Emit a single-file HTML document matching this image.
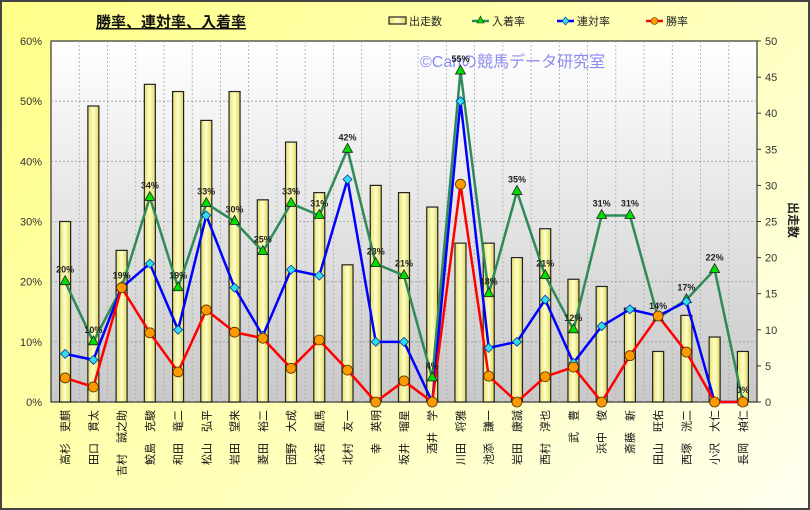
<!DOCTYPE html>
<html><head><meta charset="utf-8">
<style>
body{margin:0;width:810px;height:510px;overflow:hidden;font-family:"Liberation Sans","Noto Sans CJK JP",sans-serif;}
#frame{position:absolute;left:0;top:0;width:806px;height:506px;border:2px solid #444;background:linear-gradient(135deg,#ffff88 0%,#ffffc0 60%,#fffff0 100%);}
</style></head><body>
<div id="frame"></div>
<svg id="c" width="810" height="510" style="position:absolute;left:0;top:0">
<defs>
<linearGradient id="pg" x1="0" y1="0" x2="0" y2="1"><stop offset="0" stop-color="#ffffff"/><stop offset="1" stop-color="#c8c8c8"/></linearGradient>
<linearGradient id="bg" x1="0" y1="0" x2="1" y2="0"><stop offset="0" stop-color="#e8e070"/><stop offset="0.5" stop-color="#ffffc8"/><stop offset="1" stop-color="#e0d860"/></linearGradient>
</defs>
</svg>
<script>
const names=["高杉　吏麒","田口　貫太","吉村　誠之助","鮫島　克駿","和田　竜二","松山　弘平","岩田　望来","菱田　裕二","団野　大成","松若　風馬","北村　友一","幸　英明","坂井　瑠星","酒井　学","川田　将雅","池添　謙一","岩田　康誠","西村　淳也","武　豊","浜中　俊","斎藤　新","田山　旺佑","西塚　洸二","小沢　大仁","長岡　禎仁"];
const runs=[25,41,21,44,43,39,43,28,36,29,19,30,29,27,22,22,20,24,17,16,13,7,12,9,7];
const place=[20,10,19,34,19,33,30,25,33,31,42,23,21,4,55,18,35,21,12,31,31,14,17,22,0];
const rentai=[8,7,19,23,12,31,19,11,22,21,37,10,10,0,50,9,10,17,6.5,12.6,15.4,14.3,16.7,0,0];
const win=[4,2.5,19,11.5,5,15.3,11.6,10.6,5.6,10.3,5.3,0,3.5,0,36.2,4.3,0,4.2,5.8,0,7.7,14.3,8.3,0,0];
const pctTicks=[0,10,20,30,40,50,60];
const cntTicks=[0,5,10,15,20,25,30,35,40,45,50];

const L=51,R=757,T=41,B=402,n=names.length,cw=(R-L)/n;
const xc=i=>L+cw*(i+0.5);
const yp=p=>B-(B-T)*p/60;
const yc=v=>B-(B-T)*v/50;
const svg=document.getElementById('c');const NS='http://www.w3.org/2000/svg';
function mk(tag,at,parent){const e=document.createElementNS(NS,tag);for(const k in at)e.setAttribute(k,at[k]);(parent||svg).appendChild(e);return e;}

let e=mk('rect',{x:L,y:T,width:R-L,height:B-T,fill:'url(#pg)',stroke:'#333','stroke-width':1.2});


for(let i=1;i<n;i++){e=mk('line',{x1:L+cw*i,x2:L+cw*i,y1:T,y2:B,stroke:'#aaa','stroke-dasharray':'2,2','stroke-width':0.8});

}
pctTicks.forEach(p=>{
 if(p>0&&p<60){e=mk('line',{x1:L,x2:R,y1:yp(p),y2:yp(p),stroke:'#999','stroke-dasharray':'2,2','stroke-width':0.8});
 
 }
 e=mk('text',{x:42,y:yp(p)+4,'text-anchor':'end','font-size':11,fill:'#333'});e.textContent=p+'%';
 
 
});
cntTicks.forEach(v=>{
 e=mk('text',{x:765,y:yc(v)+4,'font-size':11,fill:'#333'});e.textContent=v;
 
 
 mk('line',{x1:R,x2:R+4,y1:yc(v),y2:yc(v),stroke:'#333'});
});
e=mk('text',{x:0,y:0,'font-size':12,'font-weight':'bold',fill:'#222',transform:'translate(789,220) rotate(90)','text-anchor':'middle'});e.textContent='出走数';



runs.forEach((v,i)=>{e=mk('rect',{x:xc(i)-5.5,y:yc(v),width:11,height:B-yc(v),fill:'url(#bg)',stroke:'#222','stroke-width':1.2});

});

e=mk('text',{x:420,y:67,'font-size':16,fill:'#8c8cf0'});e.textContent='©Cariの競馬データ研究室';



function line(arr,color,name){
 const d=arr.map((p,i)=>(i?'L':'M')+xc(i)+','+yp(p)).join('');
 e=mk('path',{d:d,fill:'none',stroke:color,'stroke-width':2.5});
 
 
}
line(place,'#2e8b57','place-rate');
line(rentai,'#0000ff','rentai-rate');
line(win,'#ff0000','win-rate');
place.forEach((p,i)=>{const x=xc(i),y=yp(p);
 e=mk('polygon',{points:`${x},${y-6} ${x-5},${y+3} ${x+5},${y+3}`,fill:'#00dd00',stroke:'#222','stroke-width':0.8});
 
 
 e=mk('text',{x:x,y:y-9,'text-anchor':'middle','font-size':9,'font-weight':'bold',fill:'#222'});e.textContent=Math.round(p)+'%';
 
 
});
rentai.forEach((p,i)=>{const x=xc(i),y=yp(p);
 e=mk('polygon',{points:`${x},${y-4.5} ${x+4.5},${y} ${x},${y+4.5} ${x-4.5},${y}`,fill:'#33ddee',stroke:'#0033aa','stroke-width':0.8});
 
 
});
win.forEach((p,i)=>{
 e=mk('circle',{cx:xc(i),cy:yp(p),r:5,fill:'#ff9900',stroke:'#553300','stroke-width':0.8});
 
 
});
names.forEach((nm,i)=>{
 e=mk('text',{x:0,y:0,'font-size':11,fill:'#111','text-anchor':'end',transform:`translate(${xc(i)+4},410) rotate(-90)`});e.textContent=nm;
 
 
});
e=mk('text',{x:96,y:27,'font-size':15,'font-weight':'bold',fill:'#111','text-decoration':'underline'});e.textContent='勝率、連対率、入着率';


const lg=[['出走数','bar'],['入着率','#2e8b57'],['連対率','#0000ff'],['勝率','#ff0000']];
[[389,'出走数'],[472,'入着率'],[557,'連対率'],[646,'勝率']].forEach((it,k)=>{
 const x=it[0],g=mk('g',{});
 
 
 if(k==0){mk('rect',{x:x,y:17,width:17,height:7,fill:'url(#bg)',stroke:'#222','stroke-width':1.2},g);}
 else{const c=lg[k][1];mk('line',{x1:x,x2:x+17,y1:21,y2:21,stroke:c,'stroke-width':2.5},g);
  if(k==1)mk('polygon',{points:`${x+8.5},16 ${x+5},23 ${x+12},23`,fill:'#00dd00',stroke:'#222','stroke-width':0.6},g);
  if(k==2)mk('polygon',{points:`${x+8.5},17 ${x+12},21 ${x+8.5},25 ${x+5},21`,fill:'#33ddee',stroke:'#0033aa','stroke-width':0.6},g);
  if(k==3)mk('circle',{cx:x+8.5,cy:21,r:3.5,fill:'#ff9900',stroke:'#553300','stroke-width':0.6},g);}
 const t=mk('text',{x:x+20,y:25,'font-size':11,fill:'#222'},g);t.textContent=it[1];
});
</script>
</body></html>
